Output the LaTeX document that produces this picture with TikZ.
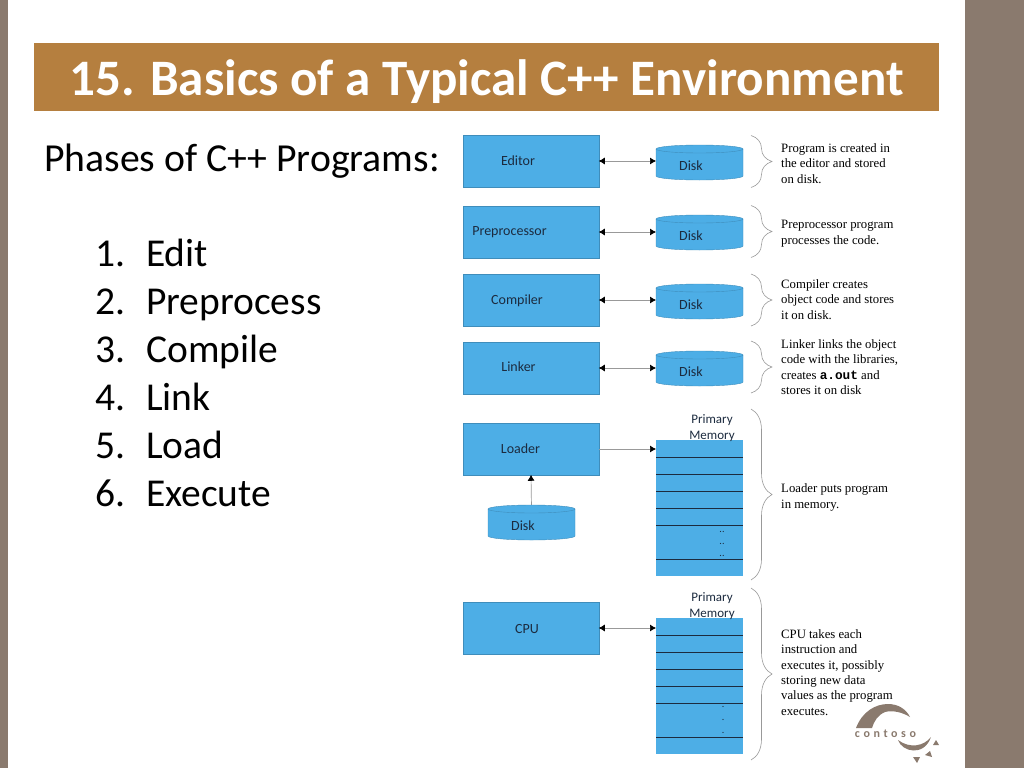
\documentclass[tikz,border=0pt]{standalone}
\usepackage{fontspec}
\setmainfont{Carlito}
\newfontfamily\descfont{Liberation Serif}
\newfontfamily\monofont{Liberation Mono}
\newfontfamily\logofont[LetterSpace=30]{Carlito}
\usepackage{xcolor}
\usetikzlibrary{arrows.meta,positioning,decorations.pathreplacing}
\definecolor{bandcol}{HTML}{8A7A6E}
\definecolor{titlecol}{HTML}{B57F3F}
\definecolor{boxcol}{HTML}{4DAEE6}
\definecolor{boxline}{HTML}{3F8DBB}
\definecolor{inkcol}{HTML}{1C2B3F}

\begin{document}
\begin{tikzpicture}[x=1pt, y=-1pt, node distance=57pt,
  phase/.style = {draw=boxline, fill=boxcol, minimum width=135.5pt, minimum height=51.5pt, inner sep=0pt, outer sep=0pt},
  disk/.style = {minimum width=87pt, minimum height=27pt, inner sep=0pt, outer sep=0pt},
  memory/.style = {draw=none, fill=boxcol, minimum width=87pt, minimum height=136pt, inner sep=0pt, outer sep=0pt},
  lbl/.style = {inner sep=0pt, text=inkcol, font=\fontsize{14}{15.5}\selectfont},
  memlbl/.style = {lbl, align=center, font=\fontsize{13}{15.5}\selectfont},
  desc/.style = {inner sep=0pt, anchor=west, align=left, font=\descfont\fontsize{12.75}{15.4}\selectfont},
  link/.style = {draw=gray!80, line width=0.7pt, >={Latex[black,length=6pt,width=7pt]}},
  cell/.style = {draw=inkcol, line width=0.7pt},
  bracket/.style = {draw=gray!80, line width=0.6pt, decorate, decoration={brace,amplitude=21pt}},
  dots/.style = {inner sep=0pt, text=inkcol, font=\fontsize{10}{10}\selectfont}]
\useasboundingbox (0,0) rectangle (1024,768);
\fill[bandcol] (0,0) rectangle (8,768);
\fill[bandcol] (965,0) rectangle (1024,768);

\node[fill=titlecol, minimum width=905pt, minimum height=68pt, inner sep=0pt] (title) at (486.5,77) {};
\node[text=white, inner sep=0pt, font=\fontsize{51.1}{54}\selectfont\bfseries] (titletext) at (486.5,82) {15. Basics of a Typical C++ Environment};
\node[inner sep=0pt, anchor=west, font=\fontsize{39.7}{44}\selectfont] (phases) at (44,161) {Phases of C++ Programs:};
\node[inner sep=0pt, anchor=north west, align=left, font=\fontsize{39.5}{47.9}\selectfont] (steps) at (95,239) {
  \makebox[51pt][l]{1.}Edit\\
  \makebox[51pt][l]{2.}Preprocess\\
  \makebox[51pt][l]{3.}Compile\\
  \makebox[51pt][l]{4.}Link\\
  \makebox[51pt][l]{5.}Load\\
  \makebox[51pt][l]{6.}Execute};

% phases on the left, disks beside them
\node[phase] (editor) at (531,161) {};
\node[phase] (prep) at (531,232) {};
\node[phase] (compiler) at (531,300) {};
\node[phase] (linker) at (531,368) {};
\node[phase] (loader) at (531,449) {};
\node[phase] (cpu) at (531,628) {};
\node[disk] (diskedit) at (699.5,162.5) {};
\node[disk] (diskprep) at (699.5,232.5) {};
\node[disk] (diskcomp) at (699.5,301.5) {};
\node[disk] (disklink) at (699.5,368.5) {};
\node[disk] (diskload) at (531.5,522.5) {};
\node[memory] (memload) at (699.5,508) {};
\node[memory] (memcpu) at (699.5,686) {};

\draw[link,<->] (editor.east) -- (editor.east -| diskedit.west);
\draw[link,<->] (prep.east) -- (prep.east -| diskprep.west);
\draw[link,<->] (compiler.east) -- (compiler.east -| diskcomp.west);
\draw[link,<->] (linker.east) -- (linker.east -| disklink.west);
\draw[link,->] (loader.east) -- (loader.east -| memload.west);
\draw[link,->] (diskload.north) -- (loader.south);
\draw[link,<->] (cpu.east) -- (cpu.east -| memcpu.west);

% the disk bodies go over the arrow ends
\foreach \dname in {diskedit,diskprep,diskcomp,disklink,diskload} {
  \filldraw[draw=boxline, fill=boxcol] (\dname.north west) -- (\dname.south west)
    arc[start angle=180, end angle=360, x radius=43.5pt, y radius=4pt] -- (\dname.north east)
    arc[start angle=0, end angle=180, x radius=43.5pt, y radius=4pt] -- cycle;
  \draw[draw=boxline] (\dname.north west) arc[start angle=180, end angle=360, x radius=43.5pt, y radius=4pt];
}

\node[lbl] (lbleditor) at (518,160.5) {Editor};
\node[lbl] (lblprep) at (509.5,232) {Preprocessor};
\node[lbl] (lblcompiler) at (517,300.5) {Compiler};
\node[lbl] (lbllinker) at (518.5,367) {Linker};
\node[lbl] (lblloader) at (520.5,448.5) {Loader};
\node[lbl] (lblcpu) at (527,628.5) {CPU};
\node[lbl] (lbldiskedit) at (691,165.5) {Disk};
\node[lbl] (lbldiskprep) at (691,235.5) {Disk};
\node[lbl] (lbldiskcomp) at (691,304.5) {Disk};
\node[lbl] (lbldisklink) at (691,372) {Disk};
\node[lbl] (lbldiskload) at (523,526) {Disk};
\node[memlbl] (lblmemload) at (712,428) {Primary\\Memory};
\node[memlbl] (lblmemcpu) at (712,606) {Primary\\Memory};

% memory cells
\draw[cell] (656,457.5) -- (743,457.5);
\draw[cell] (656,474.5) -- (743,474.5);
\draw[cell] (656,491.5) -- (743,491.5);
\draw[cell] (656,508.5) -- (743,508.5);
\draw[cell] (656,525.5) -- (743,525.5);
\draw[cell] (656,559.5) -- (743,559.5);
\draw[cell] (656,635.5) -- (743,635.5);
\draw[cell] (656,652.5) -- (743,652.5);
\draw[cell] (656,669.5) -- (743,669.5);
\draw[cell] (656,686.5) -- (743,686.5);
\draw[cell] (656,703.5) -- (743,703.5);
\draw[cell] (656,737.5) -- (743,737.5);
\node[dots] (dotsa) at (722,532) {..};
\node[dots] (dotsb) at (722,544) {..};
\node[dots] (dotsc) at (722,556) {..};
\node[dots] (dotsd) at (723,707) {.};
\node[dots] (dotse) at (723,720) {.};
\node[dots] (dotsf) at (723,733) {.};

\draw[bracket] (751,135.5) -- (751,187.5);
\draw[bracket] (751,205.5) -- (751,257.5);
\draw[bracket] (751,274) -- (751,326);
\draw[bracket] (751,341) -- (751,393);
\draw[bracket] (751,409) -- (751,580);
\draw[bracket] (751,588) -- (751,760);

\node[desc] (descedit) at (781,163.5) {Program is created in\\the editor and stored\\on disk.};
\node[desc] (descprep) at (781,233.5) {Preprocessor program\\processes the code.};
\node[desc] (desccomp) at (781,299.5) {Compiler creates\\object code and stores\\it on disk.};
\node[desc] (desclink) at (781,367) {Linker links the object\\code with the libraries,\\creates {\monofont\bfseries a.out} and\\stores it on disk};
\node[desc] (descload) at (781,497.5) {Loader puts program\\in memory.};
\node[desc] (desccpu) at (781,672.5) {CPU takes each\\instruction and\\executes it, possibly\\storing new data\\values as the program\\executes.};

% logo
\fill[bandcol] (856,728) .. controls (862,712) and (875,704) .. (888,704) .. controls (898,704) and (906,709) .. (910,717) .. controls (902,712) and (892,710) .. (885,712) .. controls (878,715) and (874,721) .. (872,728) -- cycle;
\fill[bandcol] (898,740) .. controls (902,752) and (924,757) .. (931,737) .. controls (924,746) and (910,749) .. (898,740) -- cycle;
\fill[bandcol] (936,740) -- (939,745) -- (933,745) -- cycle;
\fill[bandcol] (930,751) -- (932,757) -- (925,755) -- cycle;
\fill[bandcol] (913,757) -- (920,757) -- (917,763) -- cycle;
\node[inner sep=0pt, text=bandcol, font=\logofont\bfseries\fontsize{12}{12}\selectfont] (logo) at (885.5,734) {contoso};
\end{tikzpicture}
\end{document}
